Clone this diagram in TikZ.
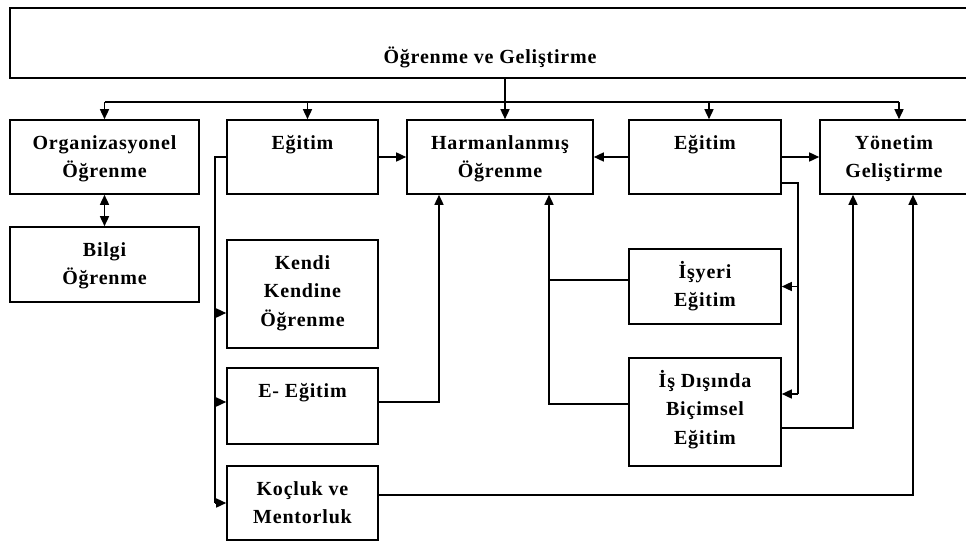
\documentclass[tikz,border=0pt]{standalone}
\usepackage{fontspec}
\setmainfont{Liberation Serif}
\usetikzlibrary{arrows.meta,calc}

% bold serif text used in every box
\newcommand\boxfont{\fontsize{20}{28.5}\selectfont\bfseries\addfontfeature{LetterSpace=4}}

% \blk{name}{left}{top}{right}{bottom}{first-baseline}{text}
\newcommand\blk[7]{%
  \node[blk] (#1) at ({(#2+#4)/2},{(#3+#5)/2})
    {\parbox[c][\dimexpr#5pt-#3pt\relax][t]{\dimexpr#4pt-#2pt\relax}%
      {\centering\rule{0pt}{#6pt}#7\par}};}

\tikzset{
  blk/.style={draw, line width=1.6pt, inner sep=0pt, font=\boxfont},
  conn/.style={line width=1.5pt},
  arr/.style={-{Triangle[length=10pt,width=9pt]}},
  dbl/.style={{Triangle[length=10pt,width=9pt]}-{Triangle[length=10pt,width=9pt]}}
}

\begin{document}
\begin{tikzpicture}[x=1pt,y=-1pt]
\useasboundingbox (0,0) rectangle (966,543);
\clip (0,0) rectangle (966,543);

% boxes
\blk{title}{10}{8}{970}{78}{55}{Öğrenme ve Geliştirme}
\blk{org}{10}{120}{199}{194}{29}{Organizasyonel\\Öğrenme}
\blk{bilgi}{10}{227}{199}{302}{29}{Bilgi\\Öğrenme}
\blk{egt1}{227}{120}{378}{194}{29}{Eğitim}
\blk{kendi}{227}{240}{378}{348}{29}{Kendi\\Kendine\\Öğrenme}
\blk{eegt}{227}{368}{378}{444}{29}{E- Eğitim}
\blk{koc}{227}{466}{378}{540}{29}{Koçluk ve\\Mentorluk}
\blk{harm}{407}{120}{593}{194}{29}{Harmanlanmış\\Öğrenme}
\blk{egt2}{629}{120}{781}{194}{29}{Eğitim}
\blk{yon}{820}{120}{968}{194}{29}{Yönetim\\Geliştirme}
\blk{isyeri}{629}{249}{781}{324}{29}{İşyeri\\Eğitim}
\blk{isdis}{629}{358}{781}{466}{29}{İş Dışında\\Biçimsel\\Eğitim}

% top distribution bus
\coordinate (bus) at (505,102);
\draw[conn] (title.south -| bus) -- (bus);
\draw[conn] (org.north |- bus) -- ([xshift=5pt]yon.north |- bus);
\foreach \n/\s in {org/0, egt1/5, harm/5, egt2/4, yon/5}
  \draw[conn,arr] ([xshift=\s pt]\n.north |- bus) -- ([xshift=\s pt]\n.north);

% organisational learning <-> knowledge learning
\draw[conn,dbl] (org.south) -- (bilgi.north);

% left bus from the first training box
\coordinate (lb) at (215,0);
\coordinate (kin) at ([yshift=-19pt]kendi.west);
\coordinate (ein) at ([yshift=4pt]eegt.west);
\draw[conn] (egt1.west) -- (egt1.west -| lb) -- (lb |- koc.west);
\draw[conn,arr] (kin -| lb) -- (kin);
\draw[conn,arr] (ein -| lb) -- (ein);
\draw[conn,arr] (lb |- koc.west) -- (koc.west);

% into blended learning
\draw[conn,arr] (egt1.east) -- (egt1.east -| harm.west);
\draw[conn,arr] (egt2.west) -- (egt2.west -| harm.east);
\coordinate (eo) at ([yshift=4pt]eegt.east);
\coordinate (hu1) at (439,0);
\draw[conn,arr] (eo) -- (eo -| hu1) -- (hu1 |- harm.south);
\coordinate (io) at ([yshift=6.5pt]isyeri.west);
\coordinate (do) at ([yshift=8pt]isdis.west);
\coordinate (hu2) at (549,0);
\draw[conn] (io) -- (io -| hu2);
\draw[conn,arr] (do) -- (do -| hu2) -- (hu2 |- harm.south);

% second training box branches
\draw[conn,arr] (egt2.east) -- (egt2.east -| yon.west);
\coordinate (e2o) at ([yshift=-26pt]egt2.east);
\coordinate (dsin) at ([yshift=18pt]isdis.east);
\coordinate (rb) at (798,0);
\draw[conn] (e2o) -- (e2o -| rb) -- (rb |- dsin);
\draw[conn,arr] (rb |- isyeri.east) -- (isyeri.east);
\draw[conn,arr] (rb |- dsin) -- (dsin);

% into management development
\coordinate (dout) at ([yshift=-16pt]isdis.east);
\coordinate (yu1) at (853,0);
\draw[conn,arr] (dout) -- (dout -| yu1) -- (yu1 |- yon.south);
\coordinate (kout) at ([yshift=8pt]koc.east);
\coordinate (yu2) at (913,0);
\draw[conn,arr] (kout) -- (kout -| yu2) -- (yu2 |- yon.south);
\end{tikzpicture}
\end{document}
